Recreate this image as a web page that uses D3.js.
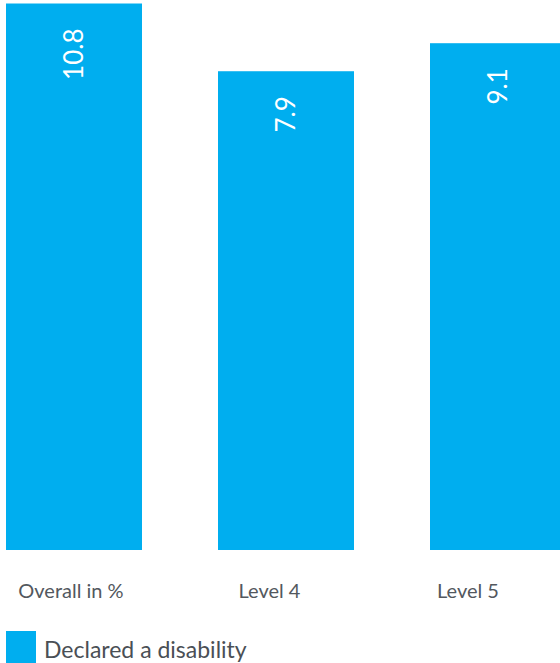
<!DOCTYPE html>
<html><head><meta charset="utf-8">
<script src="https://cdn.jsdelivr.net/npm/d3@7"></script>
<style>html,body{margin:0;padding:0;background:#fff;overflow:hidden}</style>
</head><body>
<svg id="c" width="560" height="663"></svg>
<script>
const categories = ["Overall in %", "Level 4", "Level 5"];
const values = [10.8, 7.9, 9.1];
const valueLabels = ["10.8", "7.9", "9.1"];
const seriesName = "Declared a disability";

const color = "#00AEEF";
const font = "Lato, 'Open Sans', sans-serif";
const svg = d3.select("#c");

const x = d3.scaleBand().domain(categories).range([6, 566]).paddingInner(76/212).paddingOuter(0);
const xl = d3.scalePoint().domain(categories).range([71, 468]);
const y = d3.scaleLinear().domain([-12.6, 10.95]).range([550, 0]);

svg.selectAll("rect.bar").data(values).join("rect").attr("class","bar")
  .attr("x", (d,i)=>x(categories[i])).attr("width", x.bandwidth())
  .attr("y", d=>y(d)).attr("height", d=>y.range()[0]-y(d))
  .attr("fill", color);

svg.selectAll("text.val").data(values).join("text").attr("class","val")
  .attr("transform", (d,i)=>`translate(${x(categories[i])+x.bandwidth()/2+9},${y(d)+25}) rotate(-90)`)
  .attr("text-anchor","end").attr("fill","#fff")
  .style("font-family", font).style("font-size","26px")
  .text((d,i)=>valueLabels[i]);

svg.selectAll("text.cat").data(categories).join("text").attr("class","cat")
  .attr("x", d=>xl(d)).attr("y", 598).attr("text-anchor","middle")
  .attr("fill","#53585e").style("font-family", font).style("font-size","20px")
  .text(d=>d);

const lg = svg.append("g");
lg.append("rect").attr("x",6).attr("y",631).attr("width",30).attr("height",32).attr("fill",color);
lg.append("text").attr("x",44).attr("y",658).attr("fill","#4a4f55")
  .style("font-family", font).style("font-size","23px").text(seriesName);
</script>
</body></html>
